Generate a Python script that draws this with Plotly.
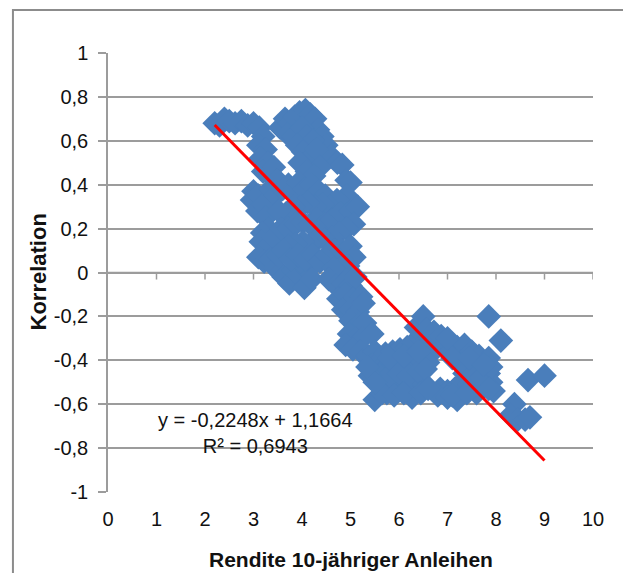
import plotly.graph_objects as go

# ---- data ----
rendite = [
    2.2, 2.3, 2.4, 2.5, 2.62, 2.75, 2.88, 3.0, 3.12, 3.2, 3.1, 3.25, 3.15, 3.3, 3.2, 3.35,
    3.0, 2.97, 3.1, 3.08, 3.2, 3.25, 3.35, 3.45, 3.3, 3.18, 3.15, 3.3, 3.42, 3.1, 3.22, 3.35,
    3.45, 3.55, 3.5, 3.62, 3.74, 3.82, 3.92, 4.05, 4.12, 3.97, 4.2,
    3.55, 3.65, 3.75, 3.85, 3.95, 4.07, 4.17, 4.27, 4.33, 4.42, 4.5, 4.47, 4.6, 4.73, 4.83,
    3.7, 3.82, 4.0, 4.1, 4.22, 3.9, 4.02, 4.15, 4.3, 4.37, 3.95, 4.1, 4.25, 3.42, 3.5,
    3.6, 3.72, 3.83, 3.93, 4.05, 4.2, 4.35, 4.48, 4.92, 5.0, 4.92, 4.72, 4.57, 4.42, 4.27,
    4.12, 3.97, 3.82, 3.67, 3.52, 3.57, 3.72, 3.87, 4.02, 4.17, 4.32, 4.47, 4.62, 4.8, 5.0,
    5.15, 5.07, 4.92, 4.77, 4.62, 4.47, 4.32, 4.17, 4.02, 3.87, 3.72, 3.62, 3.77, 3.92, 4.07,
    4.22, 4.37, 4.52, 4.67, 4.82, 5.0, 5.08, 4.95, 4.8, 4.65,
    4.55, 4.7, 4.85, 5.0, 5.1, 4.75, 4.9, 5.05, 5.22, 4.85, 5.0, 5.15, 5.27, 5.0, 5.15, 5.3,
    4.97, 5.1, 5.25, 5.45, 4.9, 5.05, 5.2, 5.35, 5.5, 5.45, 5.62,
    5.72, 5.87, 6.02, 6.17, 6.3, 6.45, 6.6, 6.75, 6.9, 7.05, 7.2, 7.35, 7.5, 7.65, 7.85,
    6.35, 6.5, 6.57, 6.72, 6.87, 7.0,
    5.55, 5.7, 5.85, 6.0, 6.15, 6.3, 6.45, 6.6, 7.3, 7.4, 7.55, 7.7, 7.85,
    5.6, 5.75, 5.9, 6.05, 6.2, 6.35, 6.5, 6.85, 7.0, 7.15, 7.3, 7.45, 7.6, 7.75, 7.9, 7.95,
    5.5, 5.75, 6.27, 6.8, 7.0, 7.2, 7.6,
    5.6, 5.8, 6.0, 6.2, 6.4, 6.55, 7.35, 7.5, 7.7, 7.9, 5.65, 5.9, 6.1, 6.45, 6.6, 7.1,
    7.4, 7.85, 5.8, 6.1, 6.4, 7.1, 7.45, 7.75, 5.4, 5.5, 5.35,
    7.85, 8.1, 8.38, 8.3, 8.45, 8.6, 8.7, 8.66, 9.0,
]
korrelation = [
    0.68, 0.67, 0.70, 0.69, 0.68, 0.69, 0.67, 0.68, 0.66, 0.62, 0.58, 0.56, 0.52, 0.50, 0.46, 0.44,
    0.37, 0.33, 0.35, 0.28, 0.31, 0.25, 0.38, 0.35, 0.20, 0.18, 0.14, 0.12, 0.16, 0.07, 0.05, 0.06,
    0.02, 0.00, 0.08, -0.02, -0.05, 0.01, -0.01, -0.07, 0.01, 0.05, -0.03,
    0.66, 0.70, 0.68, 0.71, 0.73, 0.74, 0.72, 0.70, 0.65, 0.62, 0.58, 0.53, 0.53, 0.50, 0.49,
    0.63, 0.62, 0.66, 0.62, 0.60, 0.58, 0.55, 0.52, 0.56, 0.48, 0.50, 0.46, 0.44, 0.48, 0.42,
    0.38, 0.40, 0.37, 0.41, 0.38, 0.40, 0.37, 0.35, 0.42, 0.41, 0.35, 0.33, 0.30, 0.31, 0.30,
    0.32, 0.30, 0.30, 0.27, 0.28, 0.20, 0.20, 0.22, 0.23, 0.22, 0.24, 0.22, 0.24, 0.27, 0.28,
    0.30, 0.22, 0.20, 0.18, 0.16, 0.15, 0.15, 0.13, 0.14, 0.13, 0.12, 0.10, 0.06, 0.08, 0.06,
    0.08, 0.05, 0.08, 0.10, 0.10, 0.12, 0.07, 0.03, 0.02, 0.02,
    -0.03, -0.06, -0.05, -0.06, -0.02, -0.12, -0.10, -0.12, -0.11, -0.17, -0.17, -0.18, -0.14, -0.22, -0.24, -0.23,
    -0.28, -0.30, -0.30, -0.28, -0.33, -0.35, -0.36, -0.38, -0.36, -0.42, -0.40,
    -0.37, -0.36, -0.35, -0.34, -0.32, -0.30, -0.33, -0.35, -0.33, -0.36, -0.34, -0.33, -0.36, -0.38, -0.39,
    -0.25, -0.20, -0.26, -0.27, -0.29, -0.30,
    -0.45, -0.44, -0.43, -0.42, -0.43, -0.41, -0.40, -0.41, -0.42, -0.43, -0.44, -0.45, -0.46,
    -0.51, -0.50, -0.52, -0.50, -0.51, -0.49, -0.50, -0.53, -0.54, -0.53, -0.50, -0.51, -0.49, -0.52, -0.50, -0.54,
    -0.58, -0.55, -0.57, -0.56, -0.57, -0.58, -0.55,
    -0.47, -0.47, -0.46, -0.47, -0.45, -0.44, -0.46, -0.47, -0.48, -0.43, -0.55, -0.56, -0.55, -0.55, -0.53, -0.56,
    -0.55, -0.53, -0.39, -0.38, -0.36, -0.39, -0.39, -0.42, -0.47, -0.50, -0.43,
    -0.20, -0.31, -0.60, -0.65, -0.67, -0.67, -0.66, -0.49, -0.47,
]
trend_slope = -0.2248
trend_intercept = 1.1664
r_squared = 0.6943

x_ticks = [0, 1, 2, 3, 4, 5, 6, 7, 8, 9, 10]
x_tick_labels = [str(v) for v in x_ticks]
y_ticks = [-1, -0.8, -0.6, -0.4, -0.2, 0, 0.2, 0.4, 0.6, 0.8, 1]
y_tick_labels = ["-1", "-0,8", "-0,6", "-0,4", "-0,2", "0", "0,2", "0,4", "0,6", "0,8", "1"]

x_title = "Rendite 10-jähriger Anleihen"
y_title = "Korrelation"

# ---- styling ----
FONT = "Liberation Sans, Arial, sans-serif"
MARKER_COLOR = "#4A7EBB"
GRID_COLOR = "#9C9C9C"
TEXT_COLOR = "#111111"

trend_x = [min(rendite), max(rendite)]
trend_y = [trend_slope * v + trend_intercept for v in trend_x]

fig = go.Figure()
fig.add_trace(go.Scatter(
    x=rendite, y=korrelation, mode="markers",
    marker=dict(symbol="diamond", size=19, color=MARKER_COLOR, line=dict(width=0)),
    showlegend=False, hoverinfo="x+y",
))
fig.add_trace(go.Scatter(
    x=trend_x, y=trend_y, mode="lines",
    line=dict(color="#FF0000", width=3),
    showlegend=False, hoverinfo="skip",
))

# horizontal axis line crossing at y = 0, with its tick marks
fig.add_shape(type="line", xref="x", yref="y", x0=x_ticks[0], x1=x_ticks[-1], y0=0, y1=0,
              line=dict(color=GRID_COLOR, width=1.5), layer="below")
for t in x_ticks[1:]:
    fig.add_shape(type="line", xref="x", yref="y", x0=t, x1=t, y0=0, y1=-0.032,
                  line=dict(color=GRID_COLOR, width=1.5), layer="below")

fig.update_layout(
    width=623, height=565,
    margin=dict(l=100, r=38, t=45, b=81),
    paper_bgcolor="white", plot_bgcolor="white",
    font=dict(family=FONT, size=20, color=TEXT_COLOR),
    xaxis=dict(
        range=[x_ticks[0], x_ticks[-1]], tickvals=x_ticks, ticktext=x_tick_labels,
        showgrid=False, zeroline=False, showline=False, ticks="",
        ticklabelstandoff=13,
        tickfont=dict(family=FONT, size=20, color=TEXT_COLOR),
    ),
    yaxis=dict(
        range=[y_ticks[0], y_ticks[-1]], tickvals=y_ticks, ticktext=y_tick_labels,
        showgrid=True, gridcolor=GRID_COLOR, gridwidth=1.5,
        zeroline=False, showline=True, linecolor=GRID_COLOR, linewidth=1.5,
        ticks="outside", ticklen=8, tickcolor=GRID_COLOR, tickwidth=1.5,
        ticklabelstandoff=6,
        tickfont=dict(family=FONT, size=20, color=TEXT_COLOR),
    ),
)

# outer chart border
fig.add_shape(type="rect", xref="paper", yref="paper",
              x0=-0.196, x1=1.074, y0=-0.25, y1=1.098,
              line=dict(color="#8C8C8C", width=2), fillcolor="rgba(0,0,0,0)", layer="below")

eq_text = "y = {:.4f}x + {:.4f}".format(trend_slope, trend_intercept).replace(".", ",")
r2_text = "R² = {:.4f}".format(r_squared).replace(".", ",")
fig.add_annotation(x=3.04, y=-0.73, xref="x", yref="y", showarrow=False,
                   text=eq_text + "<br>" + r2_text, align="center",
                   font=dict(family=FONT, size=20, color=TEXT_COLOR))

fig.add_annotation(x=0.5, y=0, xref="paper", yref="paper", yshift=-67,
                   xanchor="center", yanchor="middle", showarrow=False,
                   text="<b>" + x_title + "</b>",
                   font=dict(family=FONT, size=21, color=TEXT_COLOR))
fig.add_annotation(x=0, y=0.5, xref="paper", yref="paper", xshift=-70,
                   xanchor="center", yanchor="middle", showarrow=False, textangle=-90,
                   text="<b>" + y_title + "</b>",
                   font=dict(family=FONT, size=22, color=TEXT_COLOR))

fig.write_html("out.html")
